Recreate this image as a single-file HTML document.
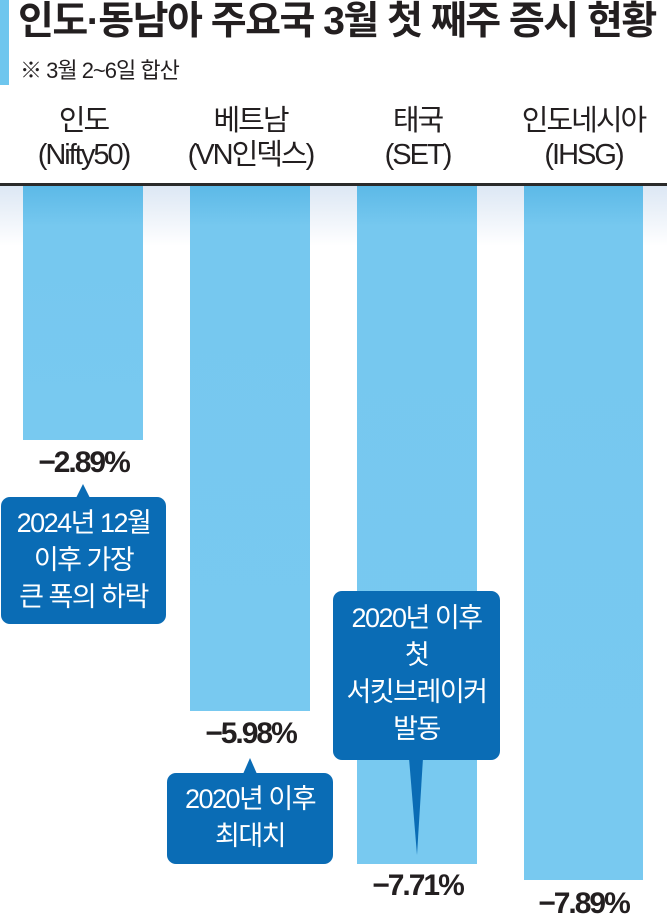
<!DOCTYPE html>
<html><head><meta charset="utf-8"><style>
body{margin:0;width:667px;height:920px;background:#fff;position:relative;overflow:hidden;font-family:"Liberation Sans","Noto Sans CJK KR",sans-serif;color:#231f20}
.a{position:absolute}
.t{left:18px;top:-2px;font-size:39px;font-weight:bold;letter-spacing:-1.5px;white-space:nowrap;line-height:48px}
.s{left:20px;top:53px;font-size:22px;white-space:nowrap;letter-spacing:-1px}
.h{width:167px;text-align:center;font-size:29px;line-height:34px;letter-spacing:-2px;top:104px}
.bar{background:linear-gradient(#5cb9e7,#76c8ef 40px,#78c9f0);}
.v{width:167px;text-align:center;font-size:30px;font-weight:bold;letter-spacing:-2px}
.c{background:#0a6cb5;color:#fff;border-radius:9px;text-align:center;font-size:27px;line-height:37px;letter-spacing:-1.5px}
</style></head><body>
<div class="a" style="left:0;top:0;width:9px;height:85px;background:#6ec6ee"></div>
<div class="a t">인도·동남아 주요국 3월 첫 째주 증시 현황</div>
<div class="a s">※ 3월 2~6일 합산</div>
<div class="a h" style="left:0">인도<br>(Nifty50)</div>
<div class="a h" style="left:167px">베트남<br>(VN인덱스)</div>
<div class="a h" style="left:334px">태국<br>(SET)</div>
<div class="a h" style="left:500px">인도네시아<br>(IHSG)</div>
<div class="a" style="left:0;top:186px;width:667px;height:60px;background:linear-gradient(#dce7f4,#fff)"></div>
<div class="a" style="left:0;top:183px;width:667px;height:3px;background:#2a2a2a"></div>
<div class="a bar" style="left:23px;top:186px;width:120px;height:254px"></div>
<div class="a bar" style="left:190px;top:186px;width:120px;height:525px"></div>
<div class="a bar" style="left:357px;top:186px;width:120px;height:678px"></div>
<div class="a bar" style="left:524px;top:186px;width:119px;height:694px"></div>
<div class="a v" style="left:0;top:446px">−2.89%</div>
<div class="a v" style="left:167px;top:717px">−5.98%</div>
<div class="a v" style="left:334px;top:869px">−7.71%</div>
<div class="a v" style="left:500px;top:887px">−7.89%</div>
<svg class="a" style="left:0;top:0" width="667" height="920">
<polygon points="76,498 83,484 90,498" fill="#0a6cb5"/>
<polygon points="243,774 250,758 257,774" fill="#0a6cb5"/>
<polygon points="409,758 423,758 417,855" fill="#0a6cb5"/>
</svg>
<div class="a c" style="left:1px;top:497px;width:165px;height:127px;padding-top:8px;box-sizing:border-box">2024년 12월<br>이후 가장<br>큰 폭의 하락</div>
<div class="a c" style="left:167px;top:773px;width:166px;height:91px;padding-top:8px;box-sizing:border-box">2020년 이후<br>최대치</div>
<div class="a c" style="left:333px;top:591px;width:167px;height:169px;padding-top:9px;box-sizing:border-box">2020년 이후<br>첫<br>서킷브레이커<br>발동</div>
</body></html>
